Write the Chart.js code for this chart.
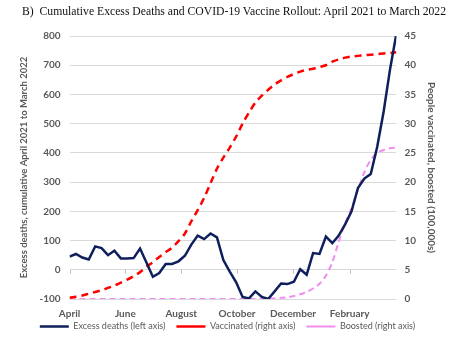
<!DOCTYPE html>
<html>
<head>
<meta charset="utf-8">
<script src="https://cdn.jsdelivr.net/npm/chart.js@4/dist/chart.umd.min.js"></script>
<style>
  body { margin: 0; background: #fff; }
  #wrap { position: relative; width: 454px; height: 341px; }
  #titulo {
    position: absolute; left: 22px; top: 5px;
    font-family: "Liberation Serif", serif; font-size: 11.7px; color: #111;
    white-space: nowrap;
  }
</style>
</head>
<body>
<div id="wrap">
  <div id="titulo">B)&nbsp;&nbsp;Cumulative Excess Deaths and COVID-19 Vaccine Rollout: April 2021 to March 2022</div>
  <canvas id="grafico" width="454" height="341"></canvas>
</div>
<script>
// weekly values, April 2021 - March 2022
const excessDeaths = [45, 54, 42, 35, 80, 74, 50, 65, 39, 39, 40, 73, 25, -24, -11, 20, 20, 29, 48, 86,
  117, 105, 124, 111, 33, -6, -43, -93, -98, -74, -93, -100, -74, -47, -49, -41, 2, -17, 57, 54,
  114, 91, 117, 155, 200, 280, 312, 328, 420, 540, 685, 808];
const vaccinated = [0.2, 0.4, 0.6, 0.9, 1.2, 1.5, 1.9, 2.3, 2.8, 3.3, 3.9, 4.6, 5.5, 6.3, 7.2, 8.0, 8.8, 9.9, 11.2, 13.3,
  15.2, 17.3, 19.8, 22.3, 24.2, 25.9, 27.8, 30.0, 31.9, 33.6, 34.8, 35.8, 36.7, 37.4, 38.0, 38.5, 38.9, 39.2, 39.4, 39.7,
  40.0, 40.6, 41.0, 41.3, 41.5, 41.6, 41.7, 41.8, 41.9, 42.0, 42.1, 42.2];
const boosted = [0, 0, 0, 0, 0, 0, 0, 0, 0, 0, 0, 0, 0, 0, 0, 0, 0, 0, 0, 0,
  0, 0, 0, 0, 0, 0, 0, 0, 0, 0, 0, 0, 0.1, 0.2, 0.3, 0.5, 0.8, 1.2, 1.8, 2.6,
  4.0, 6.3, 9.8, 13.0, 15.5, 18.7, 21.7, 23.8, 25.0, 25.5, 25.8, 25.9];

// month labels and where they fall, in weeks from 1 April
const monthNames = ["April", "June", "August", "October", "December", "February"];
const monthWeeks = [0, 8.71, 17.43, 26.14, 34.86, 43.71];

const cinza = "#595959";
const fonte = "Lato, 'Open Sans', sans-serif";

const pontos = arr => arr.map((v, i) => ({ x: i, y: v }));

// small tick marks along the zero line
const marcasEixo = {
  id: "marcasEixo",
  afterLayout(chart) {
    // x axis was squeezed in afterFit; widen its clip box so the labels still show
    chart.scales.x.bottom += 24;
  },
  afterDatasetsDraw(chart) {
    const x = chart.scales.x, y = chart.scales.y;
    const y0 = y.getPixelForValue(0);
    const ctx = chart.ctx;
    ctx.save();
    ctx.strokeStyle = "#bfbfbf";
    ctx.lineWidth = 1;
    monthWeeks.forEach(w => {
      const px = Math.round(x.getPixelForValue(w)) + 0.5;
      ctx.beginPath();
      ctx.moveTo(px, y0);
      ctx.lineTo(px, y0 + 4);
      ctx.stroke();
    });
    ctx.restore();
  }
};

new Chart(document.getElementById("grafico").getContext("2d"), {
  type: "line",
  data: {
    datasets: [
      {
        label: "Excess deaths (left axis)",
        data: pontos(excessDeaths),
        yAxisID: "y",
        borderColor: "#0f1f5c",
        borderWidth: 2.5,
        pointRadius: 0,
        tension: 0
      },
      {
        label: "Vaccinated (right axis)",
        data: pontos(vaccinated),
        yAxisID: "y1",
        borderColor: "#ff0000",
        borderWidth: 2.5,
        borderDash: [7, 5],
        pointRadius: 0,
        tension: 0.3
      },
      {
        label: "Boosted (right axis)",
        data: pontos(boosted),
        yAxisID: "y1",
        borderColor: "#f08cf0",
        borderWidth: 2,
        borderDash: [6, 4],
        pointRadius: 0,
        tension: 0.3
      }
    ]
  },
  options: {
    responsive: false,
    animation: false,
    layout: { padding: { top: 36, left: 17, right: 16, bottom: 0 } },
    plugins: {
      tooltip: { enabled: false },
      legend: {
        position: "bottom",
        labels: {
          usePointStyle: true,
          pointStyle: "line",
          pointStyleWidth: 29,
          boxHeight: 9,
          padding: 11,
          color: cinza,
          font: { family: fonte, size: 9 }
        }
      }
    },
    scales: {
      x: {
        type: "linear",
        min: 0,
        max: 51,
        grid: { display: false },
        border: { display: false },
        afterBuildTicks: axis => { axis.ticks = monthWeeks.map(v => ({ value: v })); },
        // let the month labels sit over the legend's empty top padding
        afterFit: axis => { axis.height = 12; },
        ticks: {
          autoSkip: false,
          maxRotation: 0,
          padding: 1,
          color: cinza,
          font: { family: fonte, size: 10, weight: "bold" },
          callback: (v, i) => monthNames[i]
        }
      },
      y: {
        position: "left",
        min: -100,
        max: 800,
        ticks: { stepSize: 100, padding: 9, color: cinza, font: { family: fonte, size: 10, weight: "bold" } },
        grid: { color: "#d9d9d9", drawTicks: false },
        border: { display: false },
        title: {
          display: true,
          text: "Excess deaths, cumulative April 2021 to March 2022",
          color: cinza,
          font: { family: fonte, size: 9.5, weight: "bold" },
          padding: 1
        }
      },
      y1: {
        position: "right",
        min: 0,
        max: 45,
        ticks: { stepSize: 5, padding: 8, color: cinza, font: { family: fonte, size: 10, weight: "bold" } },
        grid: { display: false, drawTicks: false },
        border: { display: false },
        title: {
          display: true,
          text: "People vaccinated, boosted (100,000s)",
          color: cinza,
          font: { family: fonte, size: 10, weight: "bold" },
          padding: 1
        }
      }
    }
  },
  plugins: [marcasEixo]
});
</script>
</body>
</html>
